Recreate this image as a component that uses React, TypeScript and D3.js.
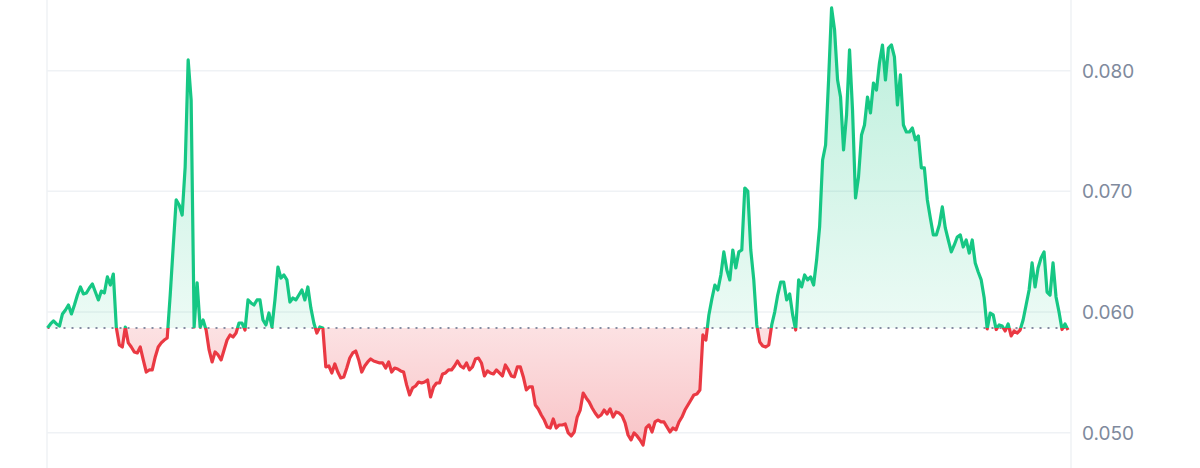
import React from "react";
import * as d3 from "d3";

// Price series (uniformly spaced in time)
const prices: number[] = [
  0.05868, 0.05901, 0.05926, 0.05901, 0.05884, 0.05984, 0.06017, 0.06058, 0.05984, 0.06058,
  0.06141, 0.06208, 0.06150, 0.06158, 0.06199, 0.06232, 0.06166, 0.06100, 0.06174, 0.06158,
  0.06291, 0.06224, 0.06315, 0.05870, 0.05727, 0.05710, 0.05876, 0.05744, 0.05710, 0.05669,
  0.05661, 0.05710, 0.05603, 0.05503, 0.05520, 0.05520, 0.05628, 0.05710, 0.05744, 0.05768,
  0.05785, 0.06141, 0.06539, 0.06929, 0.06887, 0.06804, 0.07202, 0.08089, 0.07757, 0.05876,
  0.06241, 0.05876, 0.05934, 0.05851, 0.05686, 0.05586, 0.05669, 0.05644, 0.05603, 0.05686,
  0.05768, 0.05810, 0.05793, 0.05826, 0.05909, 0.05909, 0.05851, 0.06100, 0.06075, 0.06058,
  0.06100, 0.06100, 0.05934, 0.05893, 0.05992, 0.05876, 0.06100, 0.06373, 0.06282, 0.06307,
  0.06266, 0.06083, 0.06116, 0.06100, 0.06141, 0.06183, 0.06100, 0.06208, 0.06034, 0.05909,
  0.05826, 0.05876, 0.05868, 0.05545, 0.05553, 0.05495, 0.05570, 0.05503, 0.05454, 0.05462,
  0.05536, 0.05619, 0.05661, 0.05677, 0.05603, 0.05503, 0.05553, 0.05586, 0.05611, 0.05594,
  0.05586, 0.05578, 0.05578, 0.05536, 0.05586, 0.05503, 0.05536, 0.05528, 0.05512, 0.05503,
  0.05396, 0.05313, 0.05371, 0.05387, 0.05420, 0.05412, 0.05420, 0.05437, 0.05296, 0.05379,
  0.05412, 0.05412, 0.05487, 0.05495, 0.05520, 0.05520, 0.05553, 0.05594, 0.05553, 0.05536,
  0.05578, 0.05520, 0.05545, 0.05611, 0.05619, 0.05578, 0.05470, 0.05512, 0.05495, 0.05487,
  0.05520, 0.05495, 0.05470, 0.05561, 0.05520, 0.05470, 0.05462, 0.05545, 0.05545, 0.05462,
  0.05354, 0.05379, 0.05379, 0.05230, 0.05197, 0.05147, 0.05105, 0.05047, 0.05039, 0.05114,
  0.05039, 0.05064, 0.05064, 0.05072, 0.04998, 0.04973, 0.05006, 0.05130, 0.05188, 0.05329,
  0.05288, 0.05255, 0.05205, 0.05163, 0.05130, 0.05147, 0.05188, 0.05155, 0.05197, 0.05130,
  0.05172, 0.05163, 0.05139, 0.05081, 0.04981, 0.04940, 0.04998, 0.04973, 0.04940, 0.04898,
  0.05039, 0.05064, 0.05006, 0.05089, 0.05105, 0.05089, 0.05089, 0.05047, 0.05006, 0.05039,
  0.05023, 0.05089, 0.05130, 0.05188, 0.05230, 0.05271, 0.05313, 0.05321, 0.05354, 0.05810,
  0.05768, 0.05976, 0.06108, 0.06224, 0.06183, 0.06307, 0.06498, 0.06349, 0.06266, 0.06514,
  0.06365, 0.06498, 0.06514, 0.07028, 0.07003, 0.06514, 0.06266, 0.05893, 0.05752, 0.05719,
  0.05710, 0.05727, 0.05893, 0.06000, 0.06141, 0.06249, 0.06249, 0.06100, 0.06150, 0.05976,
  0.05851, 0.06266, 0.06208, 0.06307, 0.06266, 0.06291, 0.06224, 0.06431, 0.06705, 0.07260,
  0.07384, 0.07923, 0.08520, 0.08337, 0.07923, 0.07782, 0.07343, 0.07633, 0.08172, 0.07674,
  0.06945, 0.07119, 0.07467, 0.07550, 0.07782, 0.07650, 0.07898, 0.07840, 0.08064, 0.08213,
  0.07923, 0.08188, 0.08213, 0.08114, 0.07716, 0.07965, 0.07550, 0.07492, 0.07492, 0.07525,
  0.07426, 0.07459, 0.07194, 0.07194, 0.06929, 0.06779, 0.06639, 0.06639, 0.06721, 0.06871,
  0.06697, 0.06597, 0.06498, 0.06556, 0.06622, 0.06639, 0.06539, 0.06597, 0.06489, 0.06597,
  0.06407, 0.06332, 0.06266, 0.06116, 0.05860, 0.05992, 0.05976, 0.05855, 0.05893, 0.05884,
  0.05843, 0.05901, 0.05802, 0.05843, 0.05826, 0.05851, 0.05934, 0.06058, 0.06183, 0.06407,
  0.06208, 0.06365, 0.06448, 0.06498, 0.06166, 0.06141, 0.06407, 0.06125, 0.06000, 0.05855,
  0.05901, 0.05851,
];

const yTicks: number[] = [0.05, 0.06, 0.07, 0.08];
const tickLabels: string[] = ["0.050", "0.060", "0.070", "0.080"];
const baselinePrice = prices[0];

const W = 1200;
const H = 468;
const GREEN = "#16c784";
const RED = "#ea3943";

export default function App() {
  const x = d3.scaleLinear().domain([0, prices.length - 1]).range([47.5, 1068]);
  const y = d3.scaleLinear().domain([0.05, 0.08]).range([432.7, 70.7]);
  const by = y(baselinePrice);

  const line = d3
    .line<number>()
    .x((_, i) => x(i))
    .y((d) => y(d));
  const area = d3
    .area<number>()
    .x((_, i) => x(i))
    .y0(by)
    .y1((d) => y(d));

  const lineD = line(prices) || "";
  const areaD = area(prices) || "";
  const maxY = y(d3.max(prices) as number);
  const minY = y(d3.min(prices) as number);

  return (
    <div style={{ position: "fixed", left: 0, top: 0, width: W, height: H, background: "#fff" }}>
      <svg width={W} height={H} style={{ display: "block" }}>
        <defs>
          <clipPath id="clipAbove">
            <rect x={0} y={0} width={W} height={by} />
          </clipPath>
          <clipPath id="clipBelow">
            <rect x={0} y={by} width={W} height={H - by} />
          </clipPath>
          <linearGradient id="gradGreen" gradientUnits="userSpaceOnUse" x1={0} x2={0} y1={maxY} y2={by}>
            <stop offset="0%" stopColor={GREEN} stopOpacity={0.3} />
            <stop offset="100%" stopColor={GREEN} stopOpacity={0.08} />
          </linearGradient>
          <linearGradient id="gradRed" gradientUnits="userSpaceOnUse" x1={0} x2={0} y1={by} y2={minY}>
            <stop offset="0%" stopColor={RED} stopOpacity={0.15} />
            <stop offset="100%" stopColor={RED} stopOpacity={0.3} />
          </linearGradient>
        </defs>

        {/* grid */}
        {yTicks.map((t) => (
          <line key={t} x1={47} x2={1071} y1={y(t)} y2={y(t)} stroke="#eff2f5" strokeWidth={1.5} />
        ))}
        <line x1={47} x2={47} y1={0} y2={H} stroke="#eff2f5" strokeWidth={1.5} />
        <line x1={1071} x2={1071} y1={0} y2={H} stroke="#eff2f5" strokeWidth={1.5} />

        {/* areas */}
        <path d={areaD} fill="url(#gradGreen)" clipPath="url(#clipAbove)" />
        <path d={areaD} fill="url(#gradRed)" clipPath="url(#clipBelow)" />

        {/* baseline */}
        <line
          x1={47.5}
          x2={1068}
          y1={by}
          y2={by}
          stroke="#858ca2"
          strokeWidth={2}
          strokeDasharray="2 6"
        />

        {/* lines */}
        <path d={lineD} fill="none" stroke={GREEN} strokeWidth={3.2} strokeLinejoin="round" clipPath="url(#clipAbove)" />
        <path d={lineD} fill="none" stroke={RED} strokeWidth={3.2} strokeLinejoin="round" clipPath="url(#clipBelow)" />

        {/* labels */}
        {yTicks.map((t, i) => (
          <text
            key={t}
            x={1082}
            y={y(t)}
            dy="0.36em"
            fill="#808a9d"
            fontFamily="Inter, 'Noto Sans', sans-serif"
            fontSize={19}
          >
            {tickLabels[i]}
          </text>
        ))}
      </svg>
    </div>
  );
}
